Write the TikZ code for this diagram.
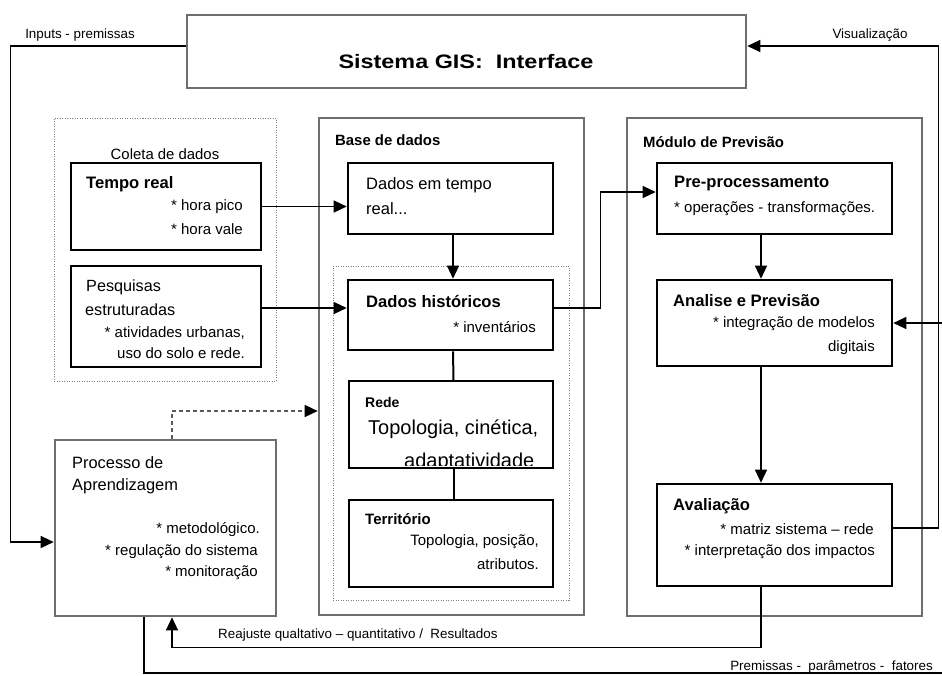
\documentclass[tikz,border=0pt]{standalone}
\usepackage{fontspec}
\setmainfont{Liberation Sans}
\usetikzlibrary{arrows.meta,fit,calc}
\newcommand\myfs[1]{\fontsize{#1}{#1}\selectfont}
\tikzset{
 gbox/.style={draw={rgb,255:red,110;green,110;blue,110}, line width=2.6pt, inner sep=0pt},
 bbox/.style={draw=black, line width=2.6pt, inner sep=0pt},
 mbox/.style={draw=black, line width=1.8pt, inner sep=0pt},
 tbox/.style={draw=black, line width=1.4pt, inner sep=0pt},
 dbox/.style={draw=gray, line width=1pt, dash pattern=on 1pt off 1.5pt, inner sep=0pt},
 conn/.style={draw=black, line width=1.3pt},
 dconn/.style={draw={rgb,255:red,90;green,90;blue,90}, line width=1.3pt, dash pattern=on 4pt off 3pt},
 arr/.style={-{Triangle[length=13pt,width=12pt,color=black]}},
 lt/.style={anchor=west, inner sep=0pt},
 rt/.style={anchor=east, inner sep=0pt},
 ct/.style={inner sep=0pt},
 sm/.style={font=\myfs{15}},
 hd/.style={font=\bfseries\myfs{16.6}},
 lb/.style={font=\myfs{13.4}},
 sec/.style={font=\bfseries\myfs{14.9}},
}
\begin{document}
\begin{tikzpicture}[x=1pt,y=-1pt]
\useasboundingbox (0,0) rectangle (942,675);
% boxes
\node[gbox, fit={(187,15)(746,88)}] (gis) {};
\node[dbox, fit={(54,118)(276,381)}] (coleta) {};
\node[mbox, fit={(71,163)(261,250)}] (tempo) {};
\node[mbox, fit={(71,266)(261,367)}] (pesq) {};
\node[gbox, fit={(319,118)(584,615)}] (base) {};
\node[bbox, fit={(348,163)(553,234)}] (dtr) {};
\node[dbox, fit={(333,266)(569,600)}] (histdot) {};
\node[bbox, fit={(348,280)(553,350)}] (hist) {};
\node[tbox, fit={(349,381)(553,468)}] (rede) {};
\node[tbox, fit={(349,500)(553,587)}] (terr) {};
\node[gbox, fit={(627,118)(922,616)}] (mod) {};
\node[bbox, fit={(657,163)(892,234)}] (pre) {};
\node[bbox, fit={(657,280)(892,366)}] (anal) {};
\node[bbox, fit={(657,484)(892,586)}] (aval) {};
\node[gbox, fit={(55,440)(276,616)}] (proc) {};
\coordinate (rin) at (942,323);
\coordinate (pin) at (942,673);
% connectors
\draw[conn,arr] ([yshift=5.5pt]gis.west) -- ++(-175,0) |- ([yshift=-14pt]proc.west);
\draw[conn,arr] (tempo.east) -- (tempo.east -| dtr.west);
\draw[conn,arr] ([yshift=8.5pt]pesq.east) -- ([yshift=8.5pt]pesq.east -| hist.west);
\draw[conn,arr] ([xshift=2.5pt]dtr.south) -- ([xshift=2.5pt]hist.north);
\draw[black, line width=2pt] ([xshift=2.5pt]hist.south) -- ([xshift=2.5pt]rede.north);
\draw[black, line width=2pt] ([xshift=2.5pt]rede.south) -- ([xshift=2.5pt]terr.north);
\draw[conn,arr] ([yshift=7pt]hist.east) -- ++(46,0) |- ([yshift=6.5pt]pre.west);
\draw[conn,arr] ([xshift=-13.5pt]pre.south) -- ([xshift=-13.5pt]anal.north);
\draw[conn,arr] ([xshift=-13.5pt]anal.south) -- ([xshift=-13.5pt]aval.north);
\draw[conn,arr] ([yshift=7pt]aval.east) -- ++(45,0) |- ([yshift=5.5pt]gis.east);
\draw[conn,arr] (rin) -- (anal.east);
\draw[conn,arr] ([xshift=-13.5pt]aval.south) -- ++(0,60) -| ([xshift=6.5pt]proc.south);
\draw[conn] (pin) -| ([xshift=-21.5pt]proc.south);
\draw[dconn,arr] ([xshift=6.5pt]proc.north) |- ([yshift=-44.5pt]base.west);
% texts
\node[ct, font=\bfseries\myfs{19.5}] (tgis) at (466,62) {\scalebox{1.2}[1]{Sistema GIS:\ \ Interface}};
\node[ct, lb] (tinp) at (80,35) {Inputs - premissas};
\node[ct, lb] (tvis) at (870,35) {Visualização};
\node[ct, font=\myfs{14.9}] (tcol) at (165,154) {Coleta de dados};
\node[lt, hd] (ttr) at (86,184) {Tempo real};
\node[rt, sm] (ttr2) at (243,207) {* hora pico};
\node[rt, sm] (ttr3) at (243,229) {* hora vale};
\node[lt, font=\myfs{16.2}] (tps1) at (86,287) {Pesquisas};
\node[lt, font=\myfs{16.2}] (tps2) at (85,310) {estruturadas};
\node[rt, sm] (tps3) at (245,333) {* atividades urbanas,};
\node[rt, sm] (tps4) at (245,353) {uso do solo e rede.};
\node[lt, sec] (tbase) at (335,140) {Base de dados};
\node[lt, font=\myfs{16.5}] (tdtr1) at (366,185) {Dados em tempo};
\node[lt, font=\myfs{16.5}] (tdtr2) at (366,209) {real...};
\node[lt, hd] (thist1) at (366,301) {Dados históricos};
\node[rt, sm] (thist2) at (536,327) {* inventários};
\node[lt, font=\bfseries\myfs{14}] (trede1) at (365,402) {Rede};
\node[lt, font=\myfs{20}] (trede2) at (368,429) {Topologia, cinética,};
\begin{scope}
\clip (349,381) rectangle (553,465);
\node[lt, font=\myfs{20}] (trede3) at (404,462) {adaptatividade};
\end{scope}
\node[lt, font=\bfseries\myfs{15}] (tter1) at (365,519) {Território};
\node[rt, sm] (tter2) at (539,542) {Topologia, posição,};
\node[rt, sm] (tter3) at (539,564) {atributos.};
\node[lt, sec] (tmod) at (643,142) {Módulo de Previsão};
\node[lt, hd] (tpre1) at (674,184) {Pre-processamento};
\node[lt, sm] (tpre2) at (674,209) {* operações - transformações.};
\node[lt, hd] (tan1) at (673,301) {Analise e Previsão};
\node[rt, sm] (tan2) at (875,324) {* integração de modelos};
\node[rt, sm] (tan3) at (875,348) {digitais};
\node[lt, hd] (tav1) at (673,506) {Avaliação};
\node[rt, sm] (tav2) at (874,529) {* matriz sistema -- rede};
\node[rt, sm] (tav3) at (875,552) {* interpretação dos impactos};
\node[lt, font=\myfs{16.4}] (tpr1) at (72,463) {Processo de};
\node[lt, font=\myfs{16.4}] (tpr2) at (72,486) {Aprendizagem};
\node[rt, sm] (tpr3) at (260,530) {* metodológico.};
\node[rt, sm] (tpr4) at (258,552) {* regulação do sistema};
\node[rt, sm] (tpr5) at (258,573) {* monitoração};
\node[lt, lb] (treaj) at (218,635) {Reajuste qualtativo -- quantitativo /\ \ Resultados};
\node[rt, lb] (tprem) at (933,667) {Premissas -\ \ parâmetros -\ \ fatores};
\end{tikzpicture}
\end{document}
